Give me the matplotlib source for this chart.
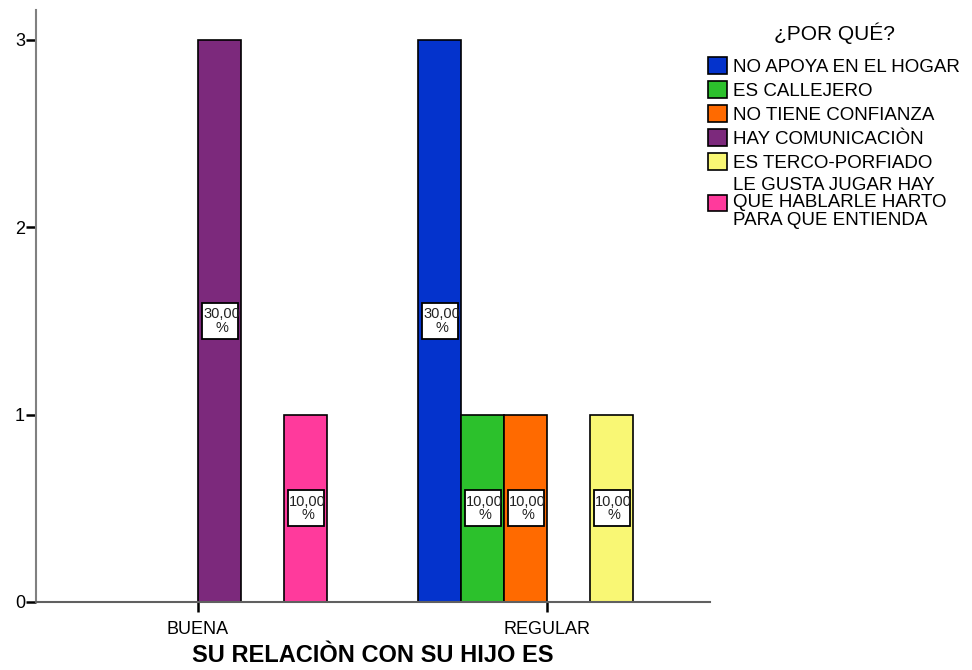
import matplotlib
matplotlib.use("Agg")
import matplotlib.pyplot as plt
import numpy as np
from matplotlib.patches import Patch, Rectangle
from matplotlib.transforms import offset_copy

plt.rcParams['font.family'] = ['Liberation Sans', 'DejaVu Sans']

categories = ["BUENA", "REGULAR"]
series_names = ["NO APOYA EN EL HOGAR", "ES CALLEJERO", "NO TIENE CONFIANZA",
                "HAY COMUNICACIÒN", "ES TERCO-PORFIADO",
                "LE GUSTA JUGAR HAY\nQUE HABLARLE HARTO\nPARA QUE ENTIENDA"]
# counts per series: [BUENA, REGULAR]
counts = {
    "NO APOYA EN EL HOGAR": [0, 3],
    "ES CALLEJERO": [0, 1],
    "NO TIENE CONFIANZA": [0, 1],
    "HAY COMUNICACIÒN": [3, 0],
    "ES TERCO-PORFIADO": [0, 1],
    "LE GUSTA JUGAR HAY\nQUE HABLARLE HARTO\nPARA QUE ENTIENDA": [1, 0],
}
percent_labels = {
    "NO APOYA EN EL HOGAR": [None, "30,00\n%"],
    "ES CALLEJERO": [None, "10,00\n%"],
    "NO TIENE CONFIANZA": [None, "10,00\n%"],
    "HAY COMUNICACIÒN": ["30,00\n%", None],
    "ES TERCO-PORFIADO": [None, "10,00\n%"],
    "LE GUSTA JUGAR HAY\nQUE HABLARLE HARTO\nPARA QUE ENTIENDA": ["10,00\n%", None],
}
colors = ["#0433CC", "#2CC12C", "#FF6A00", "#7C297C", "#F9F774", "#FF3A9C"]

fig = plt.figure(figsize=(9.72, 6.70), dpi=100)
ax = fig.add_axes([36/972, 1-602/670, (710-36)/972, (602-10)/670])

x = np.arange(len(categories))
w = 43/349
n = len(series_names)
box_w = 36/349
box_h = 36/(562/3)
for i, name in enumerate(series_names):
    left = x + (i - n/2) * w
    vals = counts[name]
    ax.bar(left, vals, width=w, align='edge', color=colors[i],
           edgecolor='black', linewidth=1.2, zorder=2)
    for j, v in enumerate(vals):
        lab = percent_labels[name][j]
        if lab and v > 0:
            cx = left[j] + w/2
            cy = v/2
            rect = Rectangle((cx - box_w/2, cy - box_h/2), box_w, box_h,
                             facecolor='white', edgecolor='black',
                             linewidth=1.3, zorder=3)
            ax.add_patch(rect)
            t = ax.text(cx, cy, lab, ha='center', va='center',
                        fontsize=10.5, linespacing=0.95, color='#222222', zorder=4,
                        transform=offset_copy(ax.transData, fig=fig, x=2, y=0, units='dots'))
            t.set_clip_path(rect)

ax.set_xlim((36-198)/349, (710-198)/349)
ax.set_ylim(0, 3*592/562)
ax.set_xticks(x)
ax.set_xticklabels(categories, fontsize=13)
ax.set_yticks([0, 1, 2, 3])
ax.set_yticklabels(['0', '1', '2', '3'], fontsize=13)
ax.tick_params(axis='y', length=7, width=1.8, color='black', pad=1)
ax.tick_params(axis='x', length=7, width=1.8, color='black', pad=7)
for s in ['top', 'right']:
    ax.spines[s].set_visible(False)
ax.spines['left'].set_color('#808080')
ax.spines['left'].set_linewidth(1.5)
ax.spines['bottom'].set_color('#606060')
ax.spines['bottom'].set_linewidth(1.5)
ax.set_xlabel("SU RELACIÒN CON SU HIJO ES", fontsize=17, fontweight='bold', labelpad=4)

handles = [Patch(facecolor=c, edgecolor='black', linewidth=1.2) for c in colors]
leg = fig.legend(handles, series_names, loc='upper left',
                 bbox_to_anchor=(708/972, 1-22/670), frameon=False,
                 title="¿POR QUÉ?", title_fontsize=15, fontsize=13.5,
                 handlelength=1.0, handleheight=1.0, handletextpad=0.35,
                 labelspacing=0.27, borderpad=0, borderaxespad=0)
for t in leg.get_texts():
    t.set_linespacing(1.05)
leg._legend_box.align = "center"
leg._legend_box.sep = 10

fig.savefig("out.png", dpi=100)
